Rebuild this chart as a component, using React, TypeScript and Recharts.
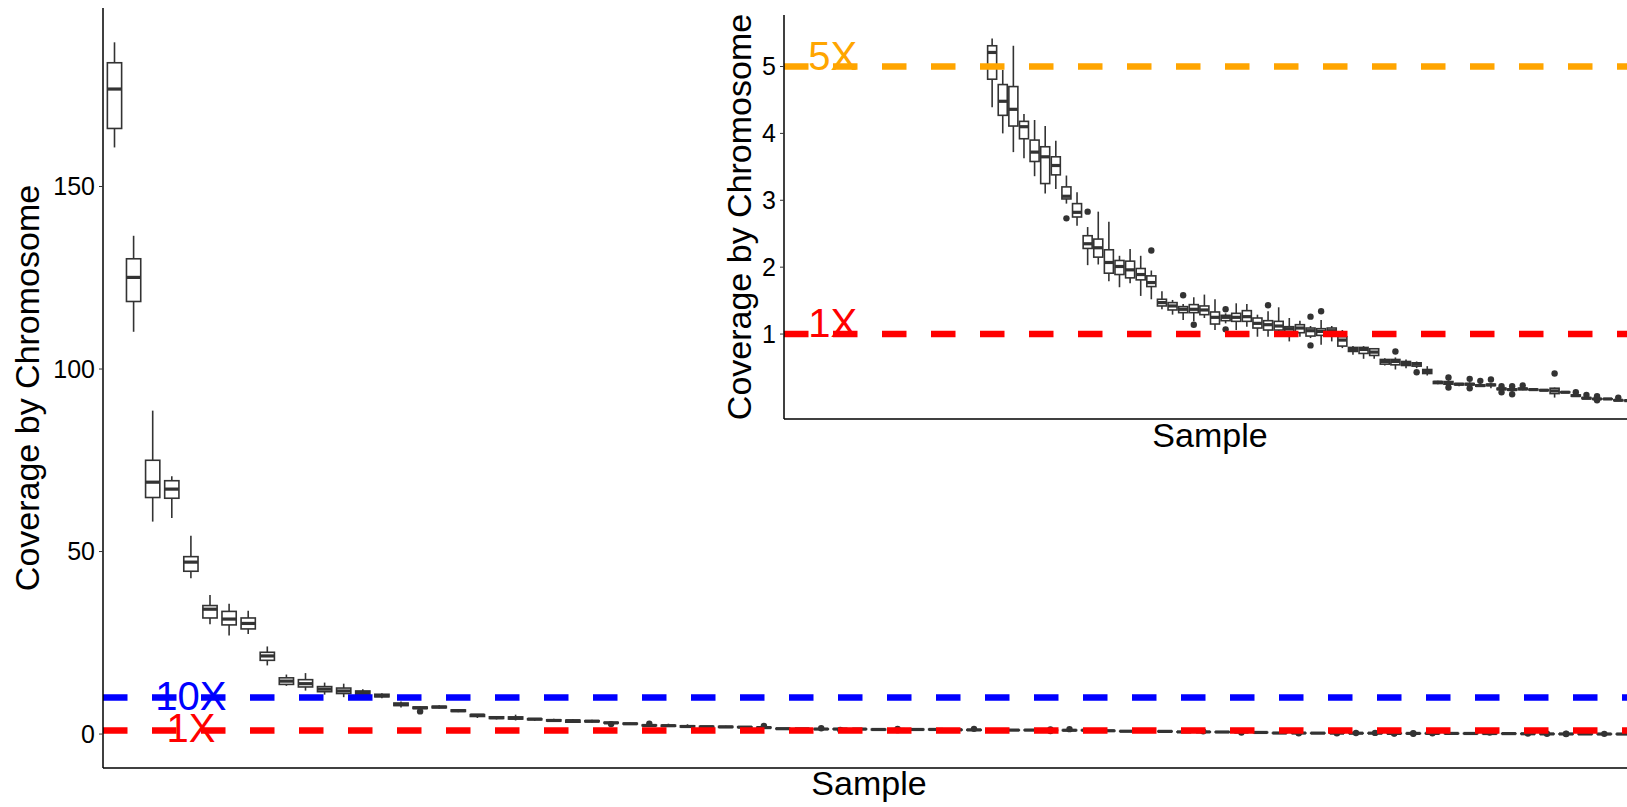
import { ComposedChart, Bar, XAxis, YAxis, ReferenceLine, ReferenceDot } from "recharts";

const FONT = "'Liberation Sans', Arial, Helvetica, sans-serif";
const INK = "#333333";
const INSET_TOP = 5.77;

// sample order as plotted (sorted by coverage)
const samples = Array.from({ length: 80 }, (_, i) => `S${i + 1}`);

const whiskerLow = [
  160.7, 110.2, 58.2, 59.2, 42.7, 30.1, 27.0, 27.4, 18.8, 13.2, 11.9, 10.8, 10.1, 10.5, 9.8, 7.3, 6.8, 7.0, 6.0,
  4.39, 4.0, 3.72, 3.63, 3.36, 3.1, 3.17, 2.95, 2.62, 2.03,
  2.04, 1.79, 1.7, 1.76, 1.57, 1.52, 1.37, 1.29, 1.21, 1.19,
  1.24, 1.06, 1.16, 1.06, 1.11, 0.96, 0.96, 0.99, 0.89, 0.96,
  0.94, 0.84, 0.89, 0.79, 0.69, 0.63, 0.63, 0.53, 0.47, 0.49,
  0.49, 0.38, 0.25, 0.23, 0.22, 0.22, 0.21, 0.19, 0.16, 0.14,
  0.16, 0.16, 0.15, 0.05, 0.12, 0.06, 0.03, 0.02, 0.025, 0.0, 0.0,
];
const lowerQuartile = [
  165.9, 118.5, 64.8, 64.6, 44.6, 31.8, 29.9, 28.8, 20.2, 13.6, 12.9, 11.6, 11.1, 10.8, 10.2, 7.8, 7.0, 7.2, 6.2,
  4.81, 4.27, 4.11, 3.92, 3.58, 3.25, 3.38, 3.02, 2.75, 2.28,
  2.15, 1.91, 1.89, 1.84, 1.81, 1.71, 1.42, 1.36, 1.32, 1.32,
  1.29, 1.15, 1.2, 1.19, 1.19, 1.09, 1.06, 1.06, 1.04, 1.02,
  0.97, 0.98, 0.99, 0.82, 0.74, 0.71, 0.68, 0.55, 0.54, 0.53,
  0.52, 0.41, 0.26, 0.25, 0.24, 0.24, 0.22, 0.23, 0.17, 0.16,
  0.17, 0.165, 0.155, 0.11, 0.125, 0.07, 0.035, 0.025, 0.028, 0.005, 0.003,
];
const medians = [
  176.7, 125.1, 69.0, 67.1, 47.1, 34.2, 31.5, 30.3, 21.4, 14.5, 13.8, 12.3, 11.8, 11.4, 10.5, 8.1, 7.2, 7.4, 6.4,
  5.21, 4.48, 4.36, 4.1, 3.72, 3.65, 3.52, 3.06, 2.82, 2.35,
  2.29, 2.07, 2.01, 1.96, 1.89, 1.77, 1.47, 1.42, 1.37, 1.37,
  1.36, 1.25, 1.25, 1.25, 1.26, 1.16, 1.14, 1.12, 1.08, 1.09,
  1.05, 1.04, 1.05, 0.91, 0.77, 0.77, 0.73, 0.59, 0.59, 0.56,
  0.55, 0.44, 0.28, 0.27, 0.25, 0.25, 0.23, 0.24, 0.18, 0.17,
  0.18, 0.17, 0.16, 0.15, 0.13, 0.08, 0.04, 0.03, 0.03, 0.01, 0.005,
];
const upperQuartile = [
  183.9, 130.2, 75.0, 69.4, 48.6, 35.2, 33.6, 31.8, 22.4, 15.4, 14.9, 13.0, 12.6, 11.8, 10.9, 8.5, 7.4, 7.6, 6.6,
  5.31, 4.73, 4.7, 4.18, 3.9, 3.8, 3.65, 3.2, 2.95, 2.47,
  2.42, 2.26, 2.1, 2.09, 1.98, 1.87, 1.52, 1.47, 1.41, 1.44,
  1.42, 1.33, 1.28, 1.31, 1.35, 1.24, 1.2, 1.19, 1.11, 1.14,
  1.09, 1.08, 1.09, 0.96, 0.8, 0.8, 0.78, 0.62, 0.62, 0.59,
  0.57, 0.47, 0.29, 0.29, 0.26, 0.26, 0.24, 0.25, 0.19, 0.18,
  0.19, 0.175, 0.165, 0.19, 0.135, 0.09, 0.05, 0.035, 0.032, 0.015, 0.008,
];
const whiskerHigh = [
  189.5, 136.5, 88.6, 70.6, 54.3, 38.1, 35.7, 33.8, 24.0, 16.3, 16.7, 14.1, 13.8, 12.3, 11.2, 8.9, 7.6, 7.9, 6.8,
  5.42, 4.95, 5.31, 4.29, 4.2, 4.11, 3.89, 3.37, 3.12, 2.6,
  2.83, 2.68, 2.17, 2.27, 2.17, 1.95, 1.64, 1.51, 1.45, 1.55,
  1.59, 1.52, 1.31, 1.46, 1.45, 1.29, 1.34, 1.4, 1.24, 1.2,
  1.12, 1.21, 1.12, 1.06, 0.82, 0.82, 0.79, 0.64, 0.65, 0.62,
  0.59, 0.52, 0.3, 0.31, 0.27, 0.28, 0.27, 0.27, 0.2, 0.19,
  0.21, 0.18, 0.17, 0.2, 0.14, 0.11, 0.07, 0.04, 0.035, 0.03, 0.01,
];
// [sample index, value]
const outlierPoints: [number, number][] = [
  [16, 6.2], [26, 2.73], [28, 2.83], [34, 2.25], [37, 1.58], [38, 1.14],
  [41, 1.37], [41, 1.07], [45, 1.43], [49, 1.26], [49, 0.83], [50, 1.34],
  [57, 0.74], [59, 0.43], [62, 0.35], [62, 0.2], [64, 0.33], [64, 0.19],
  [65, 0.3], [66, 0.32], [67, 0.22], [67, 0.13], [68, 0.22], [68, 0.1],
  [69, 0.23], [72, 0.41], [74, 0.13], [75, 0.09], [76, 0.07], [76, 0.01], [78, 0.05],
];

const mainTicks = [0, 50, 100, 150];
const insetTicks = [1, 2, 3, 4, 5];

const rows = samples.map((name, i) => {
  const out = outlierPoints.filter((p) => p[0] === i).map((p) => p[1]);
  const lo = Math.min(whiskerLow[i], ...out);
  const hi = Math.max(whiskerHigh[i], ...out);
  return {
    name,
    wl: whiskerLow[i],
    q1: lowerQuartile[i],
    med: medians[i],
    q3: upperQuartile[i],
    wh: whiskerHigh[i],
    out,
    lo,
    hi,
    span: [lo, hi],
    insetSpan: hi <= INSET_TOP ? [lo, hi] : null,
  };
});

const makeBox = (frac: number, limit: number) => (props: any) => {
  const { x, y, width, height } = props;
  const d = props.payload ?? props;
  if (!d || x == null || y == null || d.hi > limit) return <g />;
  const top = Math.min(y, y + height);
  const bottom = Math.max(y, y + height);
  const py = (v: number) => bottom - ((v - d.lo) / (d.hi - d.lo)) * (bottom - top);
  const cx = x + width / 2;
  const bw = width * frac;
  return (
    <g>
      <line x1={cx} x2={cx} y1={py(d.wh)} y2={py(d.q3)} stroke={INK} strokeWidth={1.6} />
      <line x1={cx} x2={cx} y1={py(d.q1)} y2={py(d.wl)} stroke={INK} strokeWidth={1.6} />
      <rect
        x={cx - bw / 2}
        y={py(d.q3)}
        width={bw}
        height={Math.max(0.1, py(d.q1) - py(d.q3))}
        fill="#fff"
        stroke={INK}
        strokeWidth={1.6}
      />
      <line x1={cx - bw / 2} x2={cx + bw / 2} y1={py(d.med)} y2={py(d.med)} stroke={INK} strokeWidth={3.2} />
      {d.out.map((v: number, k: number) => (
        <circle key={k} cx={cx} cy={py(v)} r={3.2} fill={INK} />
      ))}
    </g>
  );
};

const tag = (text: string, color: string, dy: number) => (p: any) => (
  <text x={p.cx} y={p.cy + dy} textAnchor="middle" fill={color} fontSize={40} fontFamily={FONT}>
    {text}
  </text>
);

const axisLine = { stroke: "#000", strokeWidth: 1.5 };
const tickStyle = { fontSize: 25, fill: "#000", fontFamily: FONT };

export default function App() {
  return (
    <div style={{ position: "absolute", left: 0, top: 0, width: 1627, height: 807, overflow: "hidden", background: "#fff" }}>
      {/* main chart */}
      <div style={{ position: "absolute", left: 0, top: 0 }}>
        <ComposedChart width={1640} height={807} data={rows} margin={{ top: 8, right: 5, bottom: 0, left: 0 }} barCategoryGap={0}>
          <XAxis dataKey="name" type="category" tick={false} tickLine={false} axisLine={axisLine} height={39} padding={{ left: 2, right: 2 }} />
          <YAxis
            type="number"
            domain={[-9.3, 198.9]}
            allowDataOverflow
            ticks={mainTicks}
            width={103}
            tick={tickStyle}
            tickSize={4}
            tickMargin={4}
            tickLine={{ stroke: INK }}
            axisLine={axisLine}
          />
          <Bar dataKey="span" shape={makeBox(0.75, Infinity)} isAnimationActive={false} />
          <ReferenceLine y={10} stroke="#0000ff" strokeWidth={6.5} strokeDasharray="24.5 24.5" />
          <ReferenceLine y={1} stroke="#ff0000" strokeWidth={6.5} strokeDasharray="24.5 24.5" />
          <ReferenceDot x={samples[4]} y={10} shape={tag("10X", "#0000ff", 12)} />
          <ReferenceDot x={samples[4]} y={1} shape={tag("1X", "#ff0000", 12)} />
        </ComposedChart>
      </div>

      {/* zoomed inset */}
      <div style={{ position: "absolute", left: 690, top: 0 }}>
        <ComposedChart width={950} height={460} data={rows} margin={{ top: 15, right: 5, bottom: 0, left: 0 }} barCategoryGap={0}>
          <XAxis dataKey="name" type="category" tick={false} tickLine={false} axisLine={axisLine} height={41} padding={{ left: 1, right: 1 }} />
          <YAxis
            type="number"
            domain={[-0.27, INSET_TOP]}
            allowDataOverflow
            ticks={insetTicks}
            width={94}
            tick={tickStyle}
            tickSize={4}
            tickMargin={4}
            tickLine={{ stroke: INK }}
            axisLine={axisLine}
          />
          <Bar dataKey="insetSpan" shape={makeBox(0.82, INSET_TOP)} isAnimationActive={false} />
          <ReferenceLine y={5} stroke="#ffa500" strokeWidth={6.5} strokeDasharray="24.5 24.5" />
          <ReferenceLine y={1} stroke="#ff0000" strokeWidth={6.5} strokeDasharray="24.5 24.5" />
          <ReferenceDot x={samples[4]} y={5} shape={tag("5X", "#ffa500", 3)} />
          <ReferenceDot x={samples[4]} y={1} shape={tag("1X", "#ff0000", 3)} />
        </ComposedChart>
      </div>

      {/* axis titles */}
      <svg width={1627} height={807} style={{ position: "absolute", left: 0, top: 0, pointerEvents: "none" }}>
        <g fontFamily={FONT} fontSize={34} fill="#000" textAnchor="middle">
          <text transform="translate(39, 388) rotate(-90)">Coverage by Chromosome</text>
          <text x={869} y={795}>Sample</text>
          <text transform="translate(751, 217) rotate(-90)">Coverage by Chromosome</text>
          <text x={1210} y={447}>Sample</text>
        </g>
      </svg>
    </div>
  );
}
